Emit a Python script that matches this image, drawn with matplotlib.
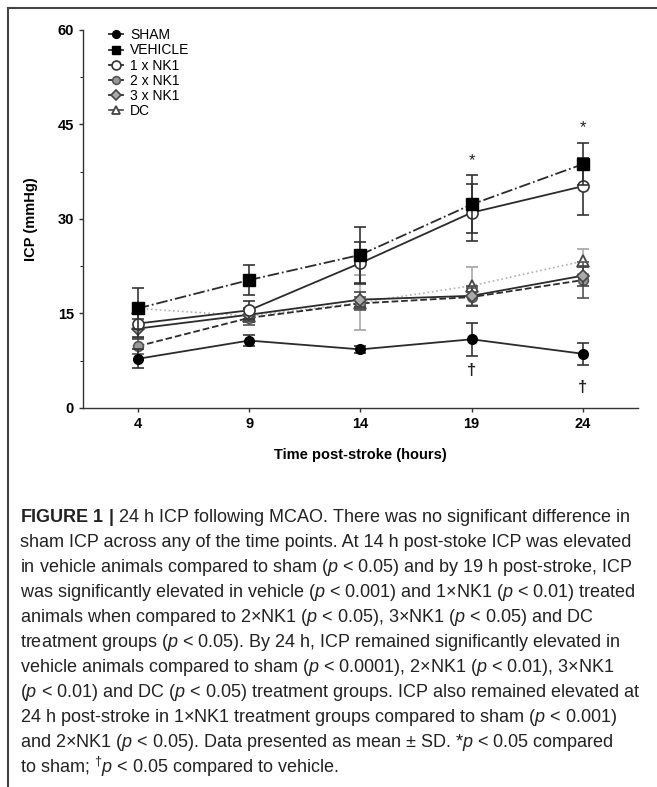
import matplotlib
matplotlib.use("Agg")
import matplotlib.pyplot as plt
from matplotlib.lines import Line2D

plt.rcParams['font.family'] = ['Liberation Sans', 'DejaVu Sans']
plt.rcParams['mathtext.fontset'] = 'custom'
plt.rcParams['mathtext.rm'] = 'Liberation Sans'
plt.rcParams['mathtext.it'] = 'Liberation Sans:italic'
plt.rcParams['mathtext.bf'] = 'Liberation Sans:bold'

# Time points (hours post-stroke)
hours = [4, 9, 14, 19, 24]

# Mean ICP (mmHg) and SD per group
sham = [7.8, 10.7, 9.3, 10.9, 8.6]
sham_sd = [1.5, 0.9, 0.6, 2.6, 1.7]
vehicle = [15.8, 20.3, 24.3, 32.3, 38.7]
vehicle_sd = [3.3, 2.4, 4.5, 4.6, 3.3]
nk1_1 = [13.4, 15.5, 23.0, 31.0, 35.2]
nk1_1_sd = [2.2, 1.4, 3.3, 4.5, 4.5]
nk1_2 = [9.8, 14.3, 16.6, 17.6, 20.3]
nk1_2_sd = [1.3, 1.2, 1.0, 1.4, 2.8]
nk1_3 = [12.6, 14.8, 17.2, 17.8, 21.0]
nk1_3_sd = [1.6, 1.0, 1.2, 1.6, 1.6]
dc = [15.8, 14.6, 16.7, 19.4, 23.3]
dc_sd = [0.0, 1.0, 4.4, 3.0, 2.0]

# significance marks
star_x = [19, 24]
star_y = [39.3, 44.5]
dagger_x = [19, 24]
dagger_y = [5.9, 3.2]

caption_lines = [
    r"$\bf{FIGURE\ 1\ |}$ 24 h ICP following MCAO. There was no significant difference in",
    r"sham ICP across any of the time points. At 14 h post-stoke ICP was elevated",
    r"in vehicle animals compared to sham ($\it{p}$ < 0.05) and by 19 h post-stroke, ICP",
    r"was significantly elevated in vehicle ($\it{p}$ < 0.001) and 1×NK1 ($\it{p}$ < 0.01) treated",
    r"animals when compared to 2×NK1 ($\it{p}$ < 0.05), 3×NK1 ($\it{p}$ < 0.05) and DC",
    r"treatment groups ($\it{p}$ < 0.05). By 24 h, ICP remained significantly elevated in",
    r"vehicle animals compared to sham ($\it{p}$ < 0.0001), 2×NK1 ($\it{p}$ < 0.01), 3×NK1",
    r"($\it{p}$ < 0.01) and DC ($\it{p}$ < 0.05) treatment groups. ICP also remained elevated at",
    r"24 h post-stroke in 1×NK1 treatment groups compared to sham ($\it{p}$ < 0.001)",
    r"and 2×NK1 ($\it{p}$ < 0.05). Data presented as mean ± SD. *$\it{p}$ < 0.05 compared",
    r"to sham; $^{\dagger}\it{p}$ < 0.05 compared to vehicle.",
]

fig = plt.figure(figsize=(6.57, 7.87), dpi=100)
ax = fig.add_axes([0.126, 0.4816, 0.845, 0.4804])

dark = '#2b2b2b'
ekw = dict(elinewidth=1.2, capsize=4, capthick=1.2)

styles = {
    'DC': dict(color='#b0b0b0', ls=':', lw=1.2, marker='^', ms=8, mfc='white', mec='#444444', mew=1.3),
    '2 x NK1': dict(color=dark, ls='--', lw=1.3, marker='o', ms=7, mfc='#999999', mec='#555555', mew=1.2),
    '3 x NK1': dict(color=dark, ls='-', lw=1.3, marker='D', ms=6, mfc='#aaaaaa', mec='#444444', mew=1.2),
    '1 x NK1': dict(color=dark, ls='-', lw=1.3, marker='o', ms=8, mfc='white', mec='#333333', mew=1.2),
    'VEHICLE': dict(color=dark, ls='-.', lw=1.3, marker='s', ms=8, mfc='black', mec='black'),
    'SHAM': dict(color=dark, ls='-', lw=1.3, marker='o', ms=7, mfc='black', mec='black'),
}
ecolors = {'DC': '#aaaaaa', '2 x NK1': '#555555', '3 x NK1': '#444444',
           '1 x NK1': '#333333', 'VEHICLE': '#333333', 'SHAM': '#333333'}

series = [('DC', dc, dc_sd), ('2 x NK1', nk1_2, nk1_2_sd), ('3 x NK1', nk1_3, nk1_3_sd),
          ('1 x NK1', nk1_1, nk1_1_sd), ('VEHICLE', vehicle, vehicle_sd), ('SHAM', sham, sham_sd)]
for z, (name, vals, sd) in enumerate(series):
    ax.errorbar(hours, vals, yerr=sd, ecolor=ecolors[name], zorder=2 + z, **styles[name], **ekw)

for x, y in zip(star_x, star_y):
    ax.text(x, y, '*', ha='center', va='center', fontsize=12, color='#222222')
for x, y in zip(dagger_x, dagger_y):
    ax.text(x, y, '†', ha='center', va='center', fontsize=12, fontweight='bold', color='#222222')

ax.set_xlim(1.53, 26.47)
ax.set_ylim(0, 60)
ax.set_xticks(hours)
ax.set_yticks([0, 15, 30, 45, 60])
ax.set_yticks([7.5, 22.5, 37.5, 52.5], minor=True)
ax.spines['top'].set_visible(False)
ax.spines['right'].set_visible(False)
for s in ['left', 'bottom']:
    ax.spines[s].set_linewidth(1.0)
    ax.spines[s].set_color('#333333')
ax.tick_params(axis='both', labelsize=10.5, width=1.0, length=3, color='#333333')
ax.tick_params(axis='y', which='minor', length=2)
for lab in ax.get_xticklabels() + ax.get_yticklabels():
    lab.set_fontweight('bold')
ax.set_xlabel('Time post-stroke (hours)', fontsize=10.5, fontweight='bold', labelpad=12)
ax.set_ylabel('ICP (mmHg)', fontsize=10.5, fontweight='bold', labelpad=14)

order = ['SHAM', 'VEHICLE', '1 x NK1', '2 x NK1', '3 x NK1', 'DC']
proxies = []
for k in order:
    st = dict(styles[k])
    st['ms'] = st['ms'] * 0.8
    if k == 'DC':
        st['color'] = '#444444'
    st['ls'] = '-'
    proxies.append(Line2D([], [], **st))
ax.legend(proxies, order, loc='upper left', bbox_to_anchor=(0.03, 1.03),
          frameon=False, fontsize=10, handlelength=1.0, handletextpad=0.5,
          labelspacing=0.08, borderpad=0.2)

# caption
y0 = 1 - 518 / 787
for i, line in enumerate(caption_lines):
    fig.text(20 / 657, y0 - i * 24.9 / 787, line, ha='left', va='center', fontsize=13,
             color='#222222')

# frame lines (top and left)
fig.add_artist(Line2D([8 / 657, 1.0], [1 - 8 / 787, 1 - 8 / 787], transform=fig.transFigure,
                      color='#444444', lw=1.5))
fig.add_artist(Line2D([8 / 657, 8 / 657], [0.0, 1 - 8 / 787], transform=fig.transFigure,
                      color='#444444', lw=1.5))

fig.savefig('out.png', dpi=100)
